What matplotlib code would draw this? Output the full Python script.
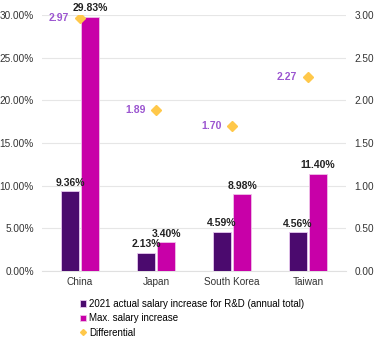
import numpy as np
import matplotlib.pyplot as plt
from matplotlib.ticker import FuncFormatter

plt.rcParams['font.family'] = ['Liberation Sans', 'DejaVu Sans']

# dane z wykresu
countries = ['China', 'Japan', 'South Korea', 'Taiwan']
actual_increase = [9.36, 2.13, 4.59, 4.56]
max_increase = [29.83, 3.40, 8.98, 11.40]
differential = [2.97, 1.89, 1.70, 2.27]

purple = '#4B0A6E'
magenta = '#C800A8'
gold = '#FFC84A'
label_purple = '#9B55D0'

fig = plt.figure(figsize=(3.76, 3.43), dpi=100)
ax = fig.add_axes([0.112, 0.21, 0.808, 0.746])
ax2 = ax.twinx()

x = np.arange(len(countries))
w = 0.235
gap = 0.03

b1 = ax.bar(x - w / 2 - gap / 2, actual_increase, w, color=purple,
            edgecolor='#E8C8F0', linewidth=0.6, zorder=3,
            label='2021 actual salary increase for R&D (annual total)')
b2 = ax.bar(x + w / 2 + gap / 2, max_increase, w, color=magenta,
            edgecolor='#F0C0E8', linewidth=0.6, zorder=3,
            label='Max. salary increase')

for xi, v in zip(x - w / 2 - gap / 2, actual_increase):
    ax.text(xi, v + 0.4, f'{v:.2f}%', ha='center', va='bottom',
            fontsize=7.5, fontweight='bold', color='#222222', zorder=5)
for xi, v in zip(x + w / 2 + gap / 2, max_increase):
    ax.text(xi, v + 0.4, f'{v:.2f}%', ha='center', va='bottom',
            fontsize=7.5, fontweight='bold', color='#222222', zorder=5)

ln = ax2.plot(x, differential, linestyle='none', marker='D', markersize=5,
              color=gold, label='Differential', zorder=4)
for xi, v in zip(x, differential):
    ax2.text(xi - 0.14, v, f'{v:.2f}', ha='right', va='center',
             fontsize=7.5, fontweight='bold', color=label_purple)

ax.set_xlim(-0.5, 3.5)
ax.set_ylim(0, 30)
ax2.set_ylim(0, 3)
ax.set_yticks(np.arange(0, 31, 5))
ax2.set_yticks(np.arange(0, 3.01, 0.5))
ax.yaxis.set_major_formatter(FuncFormatter(lambda v, p: f'{v:.2f}%'))
ax2.yaxis.set_major_formatter(FuncFormatter(lambda v, p: f'{v:.2f}'))
ax.set_xticks(x)
ax.set_xticklabels(countries)

for a in (ax, ax2):
    for s in a.spines.values():
        s.set_visible(False)
    a.tick_params(length=0, labelsize=7.2, colors='#333333')
ax.tick_params(axis='x', pad=4)
ax.tick_params(axis='y', pad=6)
ax2.tick_params(axis='y', pad=6)
ax.grid(axis='y', color='#E6E6E6', linewidth=0.8, zorder=0)
ax.set_axisbelow(True)
ax.spines['bottom'].set_visible(True)
ax.spines['bottom'].set_color('#E0E0E0')

handles = [b1, b2, ln[0]]
labels = [h.get_label() for h in handles]
fig.legend(handles, labels, loc='lower left', bbox_to_anchor=(0.19, -0.01),
           frameon=False, fontsize=7, handlelength=0.6, handleheight=0.6,
           handletextpad=0.3, labelspacing=0.45, markerscale=0.6)

fig.savefig('out.png', dpi=100)
